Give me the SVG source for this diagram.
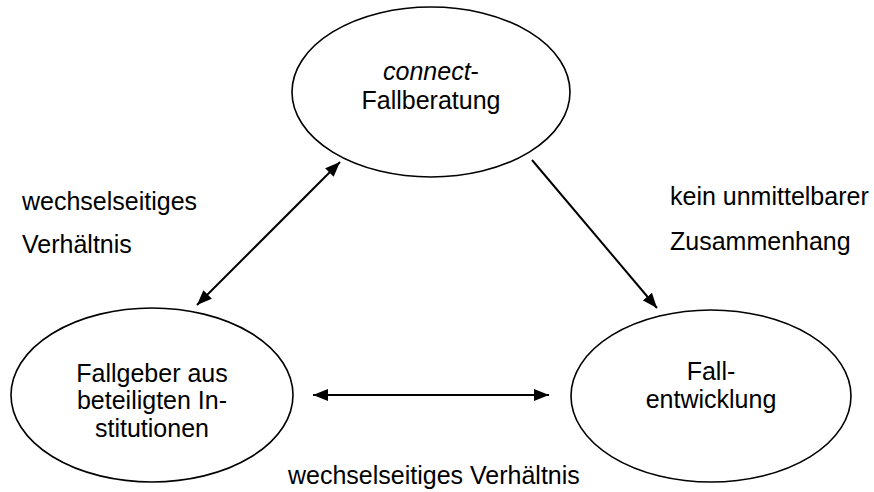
<svg xmlns="http://www.w3.org/2000/svg" width="874" height="492" viewBox="0 0 874 492">
<defs>
<style>
.node ellipse{fill:#fff;stroke:#000;stroke-width:1.6}
text{font-family:"Liberation Sans",Arial,sans-serif;font-size:25px;fill:#000}
.c{text-anchor:middle}
.conn line{stroke:#000;stroke-width:2}
</style>
<marker id="ah" viewBox="0 0 15 12" markerWidth="15" markerHeight="12" refX="15" refY="6" orient="auto-start-reverse" markerUnits="userSpaceOnUse">
<path d="M0,0 L15,6 L0,12 z" fill="#000"/>
</marker>
</defs>
<rect width="874" height="492" fill="#fff"/>
<g id="n-connect" class="node">
<ellipse cx="431" cy="92" rx="139" ry="85"/>
<text class="c" x="431" y="80"><tspan font-style="italic">connect</tspan>-</text>
<text class="c" x="431" y="109">Fallberatung</text>
</g>
<g id="n-fallgeber" class="node">
<ellipse cx="152" cy="395" rx="141" ry="87"/>
<text class="c" x="152" y="382">Fallgeber aus</text>
<text class="c" x="152" y="409">beteiligten In-</text>
<text class="c" x="152" y="437">stitutionen</text>
</g>
<g id="n-fallentwicklung" class="node">
<ellipse cx="711" cy="396" rx="140" ry="86"/>
<text class="c" x="711" y="380">Fall-</text>
<text class="c" x="711" y="408">entwicklung</text>
</g>
<g id="connectors" class="conn">
<line x1="197" y1="305" x2="340" y2="162" marker-start="url(#ah)" marker-end="url(#ah)"/>
<line x1="532" y1="160" x2="657" y2="308" marker-end="url(#ah)"/>
<line x1="313" y1="395" x2="549" y2="395" marker-start="url(#ah)" marker-end="url(#ah)"/>
</g>
<g id="labels">
<text x="22" y="210">wechselseitiges</text>
<text x="22" y="253">Verhältnis</text>
<text x="670" y="205">kein unmittelbarer</text>
<text x="670" y="250">Zusammenhang</text>
<text x="288" y="484">wechselseitiges Verhältnis</text>
</g>
</svg>
